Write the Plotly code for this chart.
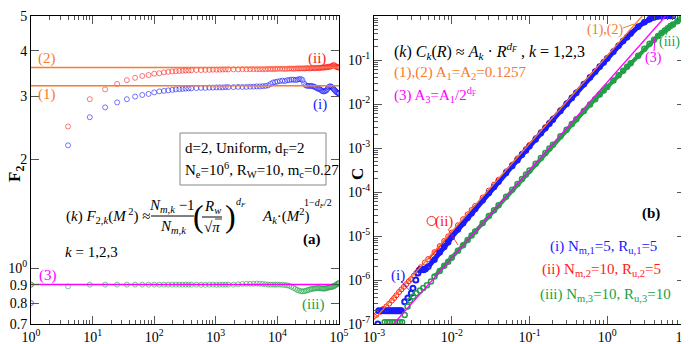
import plotly.graph_objects as go

FONT = "Liberation Serif"

# ---------------- panel (a): F2 vs M^2 ----------------
M_vals = [1, 2, 3, 4, 5, 6, 7, 8, 9, 10, 11, 12, 13, 14, 15, 16, 17, 18, 19, 20,
          22, 24, 26, 28, 30, 32, 34, 36, 38, 40,
          44, 48, 52, 56, 60, 64, 68, 72, 76, 80, 84, 88, 92, 96, 100,
          105, 110, 115, 120, 125, 130, 135, 140, 145, 150, 155, 160, 165, 170, 175,
          180, 185, 190, 195, 200, 205, 210, 215, 220, 225, 230, 235, 240, 245, 250,
          255, 260, 265, 270, 275, 280, 285, 290, 295, 300, 305, 310, 315, 316]

F2_i = [0.80, 2.19, 2.62, 2.79, 2.88, 2.94, 2.99, 3.02, 3.04, 3.07, 3.09, 3.10, 3.11, 3.12, 3.13, 3.135, 3.14, 3.145, 3.15, 3.15,
        3.155, 3.16, 3.16, 3.165, 3.165, 3.17, 3.17, 3.17, 3.175, 3.175,
        3.175, 3.18, 3.18, 3.18, 3.185, 3.185, 3.19, 3.19, 3.195, 3.20, 3.21, 3.24, 3.27, 3.28, 3.29,
        3.30, 3.31, 3.30, 3.32, 3.32, 3.33, 3.33, 3.32, 3.33, 3.34, 3.345, 3.32, 3.25, 3.21, 3.20,
        3.20, 3.20, 3.20, 3.19, 3.18, 3.17, 3.15, 3.14, 3.14, 3.12, 3.10, 3.09, 3.09, 3.10, 3.11,
        3.14, 3.17, 3.19, 3.19, 3.18, 3.16, 3.14, 3.12, 3.10, 3.08, 3.07, 3.06, 3.05, 3.05]

F2_ii = [0.90, 2.47, 2.94, 3.13, 3.24, 3.32, 3.37, 3.41, 3.43, 3.46, 3.47, 3.49, 3.50, 3.51, 3.515, 3.52, 3.525, 3.53, 3.53, 3.535,
         3.54, 3.54, 3.545, 3.545, 3.55, 3.55, 3.55, 3.555, 3.555, 3.555,
         3.555, 3.555, 3.56, 3.56, 3.56, 3.56, 3.56, 3.56, 3.56, 3.56, 3.565, 3.565, 3.565, 3.565, 3.57,
         3.57, 3.57, 3.565, 3.57, 3.575, 3.575, 3.57, 3.575, 3.58, 3.575, 3.58, 3.58, 3.575, 3.58, 3.585,
         3.58, 3.58, 3.585, 3.59, 3.58, 3.585, 3.59, 3.59, 3.585, 3.59, 3.60, 3.595, 3.60, 3.61, 3.60,
         3.61, 3.62, 3.61, 3.62, 3.63, 3.64, 3.66, 3.65, 3.63, 3.62, 3.61, 3.60, 3.60, 3.60]

F2_iii = [0.90, 0.89, 0.90, 0.90, 0.90, 0.90, 0.90, 0.90, 0.90, 0.90, 0.90, 0.90, 0.90, 0.90, 0.90, 0.90, 0.90, 0.90, 0.90, 0.90,
          0.90, 0.899, 0.899, 0.90, 0.90, 0.899, 0.90, 0.90, 0.90, 0.90,
          0.90, 0.902, 0.904, 0.905, 0.905, 0.905, 0.906, 0.905, 0.904, 0.902, 0.90, 0.90, 0.90, 0.90, 0.90,
          0.90, 0.899, 0.898, 0.896, 0.893, 0.888, 0.882, 0.876, 0.870, 0.866, 0.863, 0.862, 0.863, 0.865, 0.868,
          0.871, 0.874, 0.876, 0.877, 0.878, 0.879, 0.88, 0.881, 0.88, 0.879, 0.878, 0.878, 0.877, 0.878, 0.88,
          0.882, 0.884, 0.885, 0.886, 0.887, 0.888, 0.89, 0.893, 0.896, 0.90, 0.903, 0.906, 0.908, 0.908]

# model parameters (from the chart text)
Nm = [5, 10, 10]
Rw = 10.0
dF = 2.0
A1 = 0.1257
A_k = [A1, A1, A1 / 2 ** dF]
M2_range = [1, 1e5]

# ---------------- panel (b): C vs R ----------------
R_i_low = [1.12e-3, 1.15e-3, 1.25e-3, 1.35e-3, 1.45e-3, 1.55e-3, 1.65e-3, 1.75e-3, 1.85e-3, 1.95e-3, 2.05e-3, 2.15e-3,
           2.25e-3, 2.48e-3, 2.73e-3, 3.02e-3, 3.17e-3, 3.45e-3, 3.68e-3, 3.9e-3, 4.1e-3, 4.35e-3, 4.6e-3]
C_i_low = [1.0e-7, 2e-7, 2e-7, 2e-7, 2e-7, 2e-7, 2e-7, 2e-7, 2e-7, 2e-7, 2e-7, 2e-7,
           2e-7, 3.2e-7, 3.9e-7, 5.0e-7, 6.5e-7, 1.0e-6, 1.44e-6, 1.7e-6, 1.75e-6, 1.7e-6, 1.8e-6]

R_ii_low = [1.0e-3, 1.07e-3, 1.2e-3, 1.32e-3, 1.44e-3, 1.57e-3, 1.7e-3, 1.82e-3, 1.94e-3, 2.1e-3, 2.25e-3, 2.42e-3,
            2.6e-3, 2.8e-3, 3.0e-3, 3.25e-3, 3.5e-3, 3.75e-3, 4.0e-3, 4.5e-3]
C_ii_low = [1.5e-7, 1.6e-7, 1.9e-7, 2.2e-7, 2.5e-7, 2.9e-7, 3.4e-7, 3.9e-7, 4.5e-7, 5.3e-7, 6.1e-7, 7.0e-7,
            8.0e-7, 9.3e-7, 1.05e-6, 1.25e-6, 1.45e-6, 1.7e-6, 1.95e-6, 2.5e-6]

R_iii_low = [1.37e-3, 1.48e-3, 1.6e-3, 1.72e-3, 1.85e-3, 2.0e-3, 2.15e-3, 2.3e-3, 2.48e-3, 2.7e-3, 2.9e-3, 3.2e-3,
             3.5e-3, 3.9e-3, 4.3e-3, 4.8e-3, 5.4e-3]
C_iii_low = [1.1e-7, 1.1e-7, 1.1e-7, 1.1e-7, 1.1e-7, 1.1e-7, 1.1e-7, 1.1e-7, 1.6e-7, 2.5e-7, 3.4e-7, 4.2e-7,
             5.0e-7, 5.8e-7, 6.6e-7, 7.6e-7, 9.2e-7]

R_band = [0.005, 0.006, 0.007, 0.008, 0.009, 0.01, 0.012, 0.014, 0.016, 0.018, 0.02, 0.025, 0.03, 0.035, 0.04,
          0.05, 0.06, 0.07, 0.08, 0.09, 0.1, 0.12, 0.14, 0.16, 0.18, 0.2, 0.25, 0.3, 0.35, 0.4,
          0.5, 0.6, 0.7, 0.8, 0.9, 1.0, 1.2, 1.4, 1.6, 1.8, 2.0, 2.5, 3.0, 3.5, 4.0, 4.5, 5.0, 5.5, 6.0, 6.5, 7.0]
C_i_band = [2.0e-6, 2.9e-6, 4.2e-6, 5.6e-6, 7.2e-6, 9.5e-6, 1.4e-5, 1.95e-5, 2.6e-5, 3.3e-5, 4.1e-5, 6.5e-5, 9.5e-5, 1.3e-4, 1.7e-4,
            2.7e-4, 3.9e-4, 5.3e-4, 7.0e-4, 8.8e-4, 1.09e-3, 1.57e-3, 2.15e-3, 2.8e-3, 3.55e-3, 4.4e-3, 6.9e-3, 1.0e-2, 1.36e-2, 1.78e-2,
            2.8e-2, 4.0e-2, 5.4e-2, 7.0e-2, 8.8e-2, 0.108, 0.155, 0.21, 0.27, 0.33, 0.40, 0.57, 0.72, 0.84, 0.92, 0.97, 0.99, 1.0, 1.0, 1.0, 1.0]
C_ii_band = [3.0e-6, 4.3e-6, 5.9e-6, 7.7e-6, 9.8e-6, 1.2e-5, 1.75e-5, 2.4e-5, 3.1e-5, 3.9e-5, 4.8e-5, 7.5e-5, 1.08e-4, 1.47e-4, 1.9e-4,
             2.95e-4, 4.2e-4, 5.8e-4, 7.5e-4, 9.5e-4, 1.17e-3, 1.68e-3, 2.3e-3, 3.0e-3, 3.8e-3, 4.7e-3, 7.3e-3, 1.05e-2, 1.42e-2, 1.85e-2,
             2.9e-2, 4.15e-2, 5.6e-2, 7.3e-2, 9.1e-2, 0.112, 0.16, 0.215, 0.275, 0.34, 0.41, 0.58, 0.73, 0.85, 0.93, 0.975, 0.995, 1.0, 1.0, 1.0, 1.0]

R_iii_band = [0.006, 0.007, 0.008, 0.009, 0.01, 0.012, 0.014, 0.016, 0.018, 0.02, 0.025, 0.03, 0.035, 0.04,
              0.05, 0.06, 0.07, 0.08, 0.09, 0.1, 0.12, 0.14, 0.16, 0.18, 0.2, 0.25, 0.3, 0.35, 0.4,
              0.5, 0.6, 0.7, 0.8, 0.9, 1.0, 1.2, 1.4, 1.6, 1.8, 2.0, 2.5, 3.0, 3.5, 4.0, 4.5, 5.0, 5.5, 6.0, 6.5, 7.0,
              8.0, 9.0, 10.0]
C_iii_band = [1.2e-6, 1.6e-6, 2.1e-6, 2.6e-6, 3.2e-6, 4.6e-6, 6.2e-6, 8.1e-6, 1.02e-5, 1.26e-5, 1.97e-5, 2.83e-5, 3.85e-5, 5.0e-5,
              7.8e-5, 1.12e-4, 1.52e-4, 1.98e-4, 2.5e-4, 3.08e-4, 4.4e-4, 5.95e-4, 7.7e-4, 9.7e-4, 1.19e-3, 1.84e-3, 2.6e-3, 3.5e-3, 4.5e-3,
              6.9e-3, 9.7e-3, 1.29e-2, 1.64e-2, 2.02e-2, 2.45e-2, 3.4e-2, 4.5e-2, 5.7e-2, 7.0e-2, 8.4e-2, 0.125, 0.18, 0.235, 0.29, 0.35,
              0.41, 0.47, 0.53, 0.59, 0.64, 0.76, 0.88, 0.98]

C_top = 1.0
C_bottom = 1e-7
R_left = 1e-3

# ---------------- colours ----------------
BLUE = "#1a1aff"
RED = "#ff1a1a"
GREEN = "#22a046"
ORANGE = "#f77b2a"
MAGENTA = "#ff00ff"

# ---------------- layout geometry ----------------
W, H = 689, 344
ML, MR, MT, MB = 23, 12, 8, 28
PW, PH = W - ML - MR, H - MT - MB


def px(x):
    return (x - ML) / PW


def py(y):
    return (H - MB - y) / PH


fig = go.Figure()

M2 = [m * m for m in M_vals]
open_small = dict(symbol="circle-open", size=5)

# panel (a) data
for ys, col in [(F2_ii, RED), (F2_i, BLUE), (F2_iii, GREEN)]:
    fig.add_trace(go.Scatter(x=M2, y=ys, mode="markers", xaxis="x", yaxis="y",
                             marker=dict(**open_small, color=col, opacity=0.85, line=dict(width=0.7, color=col))))

# panel (a) model levels
pi = 3.141592653589793
for k, col in zip(range(3), [ORANGE, ORANGE, MAGENTA]):
    lvl = (Nm[k] - 1) / Nm[k] * (Rw / pi ** 0.5) ** dF * A_k[k]
    fig.add_trace(go.Scatter(x=M2_range, y=[lvl, lvl], mode="lines", xaxis="x", yaxis="y",
                             line=dict(color=col, width=1.5)))

# panel (b) data
mk = dict(symbol="circle-open", size=5)
fig.add_trace(go.Scatter(x=R_ii_low, y=C_ii_low, mode="markers", xaxis="x2", yaxis="y2",
                         marker=dict(**mk, color=RED, line=dict(width=1, color=RED))))
fig.add_trace(go.Scatter(x=R_band, y=C_ii_band, mode="lines+markers", xaxis="x2", yaxis="y2",
                         line=dict(color=RED, width=2),
                         marker=dict(**mk, color=RED, line=dict(width=1, color=RED))))
fig.add_trace(go.Scatter(x=R_i_low, y=C_i_low, mode="markers", xaxis="x2", yaxis="y2",
                         marker=dict(**mk, color=BLUE, line=dict(width=2, color=BLUE))))
fig.add_trace(go.Scatter(x=R_band, y=C_i_band, mode="lines+markers", xaxis="x2", yaxis="y2",
                         line=dict(color=BLUE, width=5),
                         marker=dict(**mk, color=BLUE, line=dict(width=1.5, color=BLUE))))
fig.add_trace(go.Scatter(x=R_iii_low, y=C_iii_low, mode="markers", xaxis="x2", yaxis="y2",
                         marker=dict(**mk, color=GREEN, line=dict(width=1.5, color=GREEN))))
fig.add_trace(go.Scatter(x=R_iii_band, y=C_iii_band, mode="lines+markers", xaxis="x2", yaxis="y2",
                         line=dict(color=GREEN, width=4),
                         marker=dict(**mk, color=GREEN, line=dict(width=1.5, color=GREEN))))

# panel (b) model lines C = A_k R^dF, drawn between C_bottom/R_left and C_top
for k, col in [(0, ORANGE), (2, MAGENTA)]:
    r0 = max(R_left, (C_bottom / A_k[k]) ** (1 / dF))
    r1 = (C_top / A_k[k]) ** (1 / dF)
    fig.add_trace(go.Scatter(x=[r0, r1], y=[A_k[k] * r0 ** dF, A_k[k] * r1 ** dF], mode="lines",
                             xaxis="x2", yaxis="y2", line=dict(color=col, width=1.3)))

# ---------------- axes ----------------
TICKC = "#555555"


def sup(n):
    return "10<sup>%d</sup>" % n


def minor_vals(lo, hi):
    out = []
    for e in range(lo, hi):
        for d in range(2, 10):
            out.append(d * 10 ** e)
    return out


axis_common = dict(showline=True, linecolor="black", linewidth=1, mirror="allticks", ticks="inside",
                   tickcolor=TICKC, tickwidth=1, ticklen=8, showgrid=False, zeroline=False, automargin=False,
                   tickfont=dict(family=FONT, size=14, color="black"), tickmode="array")

fig.update_layout(
    xaxis=dict(**axis_common, type="log", domain=[0, 308 / PW], range=[0, 5], anchor="y",
               tickvals=[10 ** e for e in range(0, 6)], ticktext=[sup(e) for e in range(0, 6)],
               minor=dict(tickmode="array", tickvals=minor_vals(0, 5), ticks="inside", ticklen=4,
                          tickcolor=TICKC, showgrid=False)),
    yaxis=dict(**axis_common, type="log", domain=[0, 1], range=[-0.154902, 0.69897], anchor="x",
               tickvals=[0.7, 0.8, 0.9, 1, 2, 3, 4, 5],
               ticktext=["0.7", "0.8", "0.9", "10<sup>0</sup>", "2", "3", "4", "5"]),
    xaxis2=dict(**axis_common, type="log", domain=[343 / PW, 1], range=[-3, 1], anchor="y2",
                tickvals=[10 ** e for e in range(-3, 2)], ticktext=[sup(e) for e in range(-3, 2)],
                minor=dict(tickmode="array", tickvals=minor_vals(-3, 1), ticks="inside", ticklen=4,
                           tickcolor=TICKC, showgrid=False)),
    yaxis2=dict(**axis_common, type="log", domain=[0, 1], range=[-7, 0], anchor="x2",
                tickvals=[10 ** e for e in range(-7, 1)], ticktext=[sup(e) for e in range(-7, 1)],
                minor=dict(tickmode="array", tickvals=minor_vals(-7, 0), ticks="inside", ticklen=4,
                           tickcolor=TICKC, showgrid=False)),
    width=W, height=H, margin=dict(l=ML, r=MR, t=MT, b=MB, pad=0, autoexpand=False),
    plot_bgcolor="white", paper_bgcolor="white", showlegend=False,
    font=dict(family=FONT, size=14, color="black"),
)

# ---------------- annotations ----------------
anns = []


def ann(text, x, y, size=15, color="black", xanchor="center", yanchor="middle", angle=0):
    anns.append(dict(text=text, x=px(x), y=py(y), xref="paper", yref="paper", showarrow=False,
                     font=dict(family=FONT, size=size, color=color), xanchor=xanchor, yanchor=yanchor,
                     textangle=angle))


# axis titles
ann("<b>F<sub>2</sub></b>", 8, 166, size=17, angle=-90)
ann("<b>M<sup>2</sup></b>", 176, 346, size=17)
ann("<b>C</b>", 349, 166, size=17, angle=-90)
ann("<b>R</b> (arbitrary units)", 530, 346, size=16)

# panel (a) labels
ann("(2)", 39, 50, color=ORANGE)
ann("(1)", 39, 87, color=ORANGE)
ann("(ii)", 309, 50, color=RED)
ann("(i)", 312, 96, color=BLUE)
ann("(3)", 40, 267, color=MAGENTA)
ann("(iii)", 305, 296, color=GREEN)

ann("d=2, Uniform, d<sub>F</sub>=2", 175, 141, size=15, xanchor="left")
ann("N<sub>e</sub>=10<sup>6</sup>, R<sub>W</sub>=10, m<sub>c</sub>=0.27", 175, 162, size=15, xanchor="left")

# formula (a)
ann("(<i>k</i>) <i>F</i><sub>2,<i>k</i></sub>(<i>M</i><sup> 2</sup>) ≈", 56, 208, size=15, xanchor="left")
ann("<i>N</i><sub><i>m,k</i></sub> −1", 164, 198, size=15)
ann("<i>N</i><sub><i>m,k</i></sub>", 165, 219, size=15)
ann("(", 190, 208, size=32)
ann(")", 222, 208, size=32)
ann("<i>R</i><sub><i>w</i></sub>", 204, 199, size=15)
ann("√<i>π</i>", 204, 219, size=15)
ann("<i>d<sub>F</sub></i>", 233, 194, size=10)
ann("<i>A</i><sub><i>k</i></sub>·(<i>M</i><sup>2</sup>)", 252, 208, size=15, xanchor="left")
ann("1−<i>d<sub>F</sub></i>/2", 294, 195, size=10, xanchor="left")
ann("<b>(a)</b>", 304, 231, size=15)
ann("<i>k</i> = 1,2,3", 55, 244, size=15, xanchor="left")

# panel (b) labels
ann("(<i>k</i>) <i>C<sub>k</sub></i>(<i>R</i>) ≈ <i>A<sub>k</sub></i> · <i>R</i><sup><i>d<sub>F</sub></i></sup> , <i>k</i> = 1,2,3",
    384, 43, size=16, xanchor="left")
ann("(1),(2) A<sub>1</sub>=A<sub>2</sub>=0.1257", 384, 65, size=15, color=ORANGE, xanchor="left")
ann("(3) A<sub>3</sub>=A<sub>1</sub>/2<sup>d<sub>F</sub></sup>", 384, 87, size=15, color=MAGENTA, xanchor="left")
ann("(1),(2)", 597, 22, size=14, color=ORANGE)
ann("(iii)", 661, 34, size=14, color=GREEN)
ann("(3)", 645, 50, size=14, color=MAGENTA)
ann("<b>(b)</b>", 643, 205, size=15)
ann("(i) N<sub>m,1</sub>=5, R<sub>u,1</sub>=5", 595, 239, size=15, color=BLUE)
ann("(ii) N<sub>m,2</sub>=10, R<sub>u,2</sub>=5", 593, 262, size=15, color=RED)
ann("(iii) N<sub>m,3</sub>=10, R<sub>u,3</sub>=10", 597, 287, size=15, color=GREEN)
ann("(i)", 390, 267, size=15, color=BLUE)
ann("(ii)", 436, 214, size=15, color=RED)

# ---------------- shapes ----------------
shapes = []


def seg(x0, y0, x1, y1, color="black", width=1):
    shapes.append(dict(type="line", xref="paper", yref="paper", x0=px(x0), y0=py(y0), x1=px(x1), y1=py(y1),
                       line=dict(color=color, width=width)))


shapes.append(dict(type="rect", xref="paper", yref="paper", x0=px(172), y0=py(177), x1=px(318), y1=py(125),
                   line=dict(color="#888888", width=1), fillcolor="rgba(0,0,0,0)"))
seg(143, 208, 186, 208)
seg(194, 209, 214, 209)
seg(207, 211, 214, 211, width=0.8)
seg(615, 20, 626, 16, color=ORANGE)
seg(658, 27, 660, 19, color=GREEN)
seg(646, 43, 647, 29, color=MAGENTA)
seg(393, 273, 402, 283, color=BLUE, width=0.8)
seg(440, 221, 450, 237, color=RED, width=0.8)
shapes.append(dict(type="circle", xref="paper", yref="paper", x0=px(419), x1=px(428), y0=py(217.5), y1=py(208.5),
                   line=dict(color=RED, width=1)))

fig.update_layout(annotations=anns, shapes=shapes)
fig.write_html("out.html")
